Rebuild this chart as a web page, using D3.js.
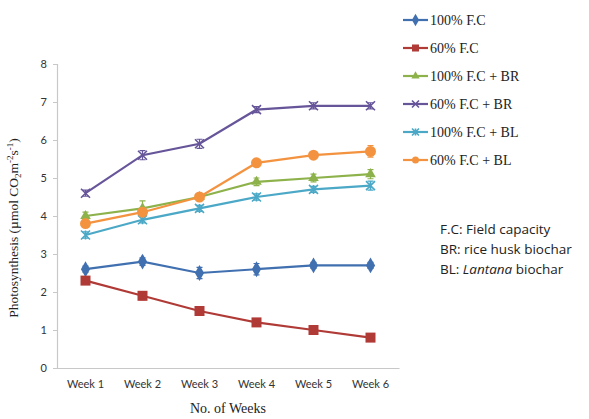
<!DOCTYPE html>
<html>
<head>
<meta charset="utf-8">
<script src="https://cdn.jsdelivr.net/npm/d3@7"></script>
<style>
  html, body { margin: 0; padding: 0; background: #fff; }
  svg { display: block; }
</style>
</head>
<body>
<div id="chart"></div>
<script>
// Weekly photosynthesis rate under water regimes and biochar amendments
const weeks = ["Week 1", "Week 2", "Week 3", "Week 4", "Week 5", "Week 6"];
const yTicks = [0, 1, 2, 3, 4, 5, 6, 7, 8];

const fc100      = [2.6, 2.8, 2.5, 2.6, 2.7, 2.7];
const fc60       = [2.3, 1.9, 1.5, 1.2, 1.0, 0.8];
const fc100BR    = [4.0, 4.2, 4.5, 4.9, 5.0, 5.1];
const fc60BR     = [4.6, 5.6, 5.9, 6.8, 6.9, 6.9];
const fc100BL    = [3.5, 3.9, 4.2, 4.5, 4.7, 4.8];
const fc60BL     = [3.8, 4.1, 4.5, 5.4, 5.6, 5.7];

// standard errors
const fc100Err   = [0.08, 0.1, 0.15, 0.15, 0.08, 0.08];
const fc60Err    = [0.08, 0.1, 0.08, 0.1, 0.06, 0.06];
const fc100BRErr = [0.1, 0.2, 0.08, 0.1, 0.1, 0.12];
const fc60BRErr  = [0.08, 0.12, 0.12, 0.08, 0.08, 0.08];
const fc100BLErr = [0.08, 0.08, 0.08, 0.08, 0.08, 0.12];
const fc60BLErr  = [0.1, 0.1, 0.08, 0.08, 0.08, 0.15];

const seriesNames = ["100% F.C", "60% F.C", "100% F.C + BR", "60% F.C + BR", "100% F.C + BL", "60% F.C + BL"];
const seriesValues = [fc100, fc60, fc100BR, fc60BR, fc100BL, fc60BL];
const seriesErrors = [fc100Err, fc60Err, fc100BRErr, fc60BRErr, fc100BLErr, fc60BLErr];
const seriesColors = ["#4170B0", "#B03A36", "#8DB24B", "#67559A", "#4BA8C6", "#F39340"];
const seriesMarkers = ["diamond", "square", "triangle", "cross", "asterisk", "circle"];

const W = 589, H = 419;
const svg = d3.select("#chart").append("svg").attr("width", W).attr("height", H);

const x = d3.scaleBand().domain(weeks).range([57, 399]);
const y = d3.scaleLinear().domain([0, 8]).range([368, 64]);

// axes
const yAxis = svg.append("g").attr("transform", "translate(57,0)")
  .call(d3.axisLeft(y).tickValues(yTicks).tickSize(4).tickPadding(6).tickFormat(d3.format("d")));
const xAxis = svg.append("g").attr("transform", "translate(0,368)")
  .call(d3.axisBottom(x).tickSize(0).tickPadding(12));
[yAxis, xAxis].forEach(g => {
  g.select(".domain").attr("stroke", "#c8c8c8").attr("stroke-width", 1.2);
  g.selectAll(".tick line").attr("stroke", "#c8c8c8");
  g.selectAll(".tick text").attr("font-family", "Lato, 'Open Sans', sans-serif")
    .attr("font-size", 11).attr("fill", "#333");
});

// axis titles
svg.append("text")
  .attr("x", x.range()[0] + (x.range()[1] - x.range()[0]) / 2)
  .attr("y", 413)
  .attr("text-anchor", "middle")
  .attr("font-family", "'Liberation Serif', serif")
  .attr("font-size", 14).attr("fill", "#222")
  .text("No. of Weeks");

const yt = svg.append("text")
  .attr("transform", "translate(18,228) rotate(-90)")
  .attr("text-anchor", "middle")
  .attr("font-family", "'Liberation Serif', serif")
  .attr("font-size", 13.5).attr("fill", "#222");
yt.append("tspan").text("Photosynthesis (µmol CO");
yt.append("tspan").attr("font-size", 9).attr("dy", 3).text("2");
yt.append("tspan").attr("dy", -3).text("m");
yt.append("tspan").attr("font-size", 9).attr("dy", -5).text("-2");
yt.append("tspan").attr("dy", 5).text("s");
yt.append("tspan").attr("font-size", 9).attr("dy", -5).text("-1");
yt.append("tspan").attr("dy", 5).text(")");

function drawMarker(g, type, color, s) {
  switch (type) {
    case "diamond":
      g.append("path").attr("d", d3.symbol(d3.symbolDiamond, s * s * 0.9)()).attr("fill", color);
      break;
    case "square":
      g.append("rect").attr("x", -s / 2).attr("y", -s / 2).attr("width", s).attr("height", s).attr("fill", color);
      break;
    case "triangle":
      g.append("path").attr("d", d3.symbol(d3.symbolTriangle, s * s * 0.6)()).attr("fill", color);
      break;
    case "cross":
      g.append("path").attr("d", `M${-s/2},${-s/2}L${s/2},${s/2}M${-s/2},${s/2}L${s/2},${-s/2}`)
        .attr("stroke", color).attr("stroke-width", 1.6).attr("fill", "none");
      break;
    case "asterisk":
      g.append("path").attr("d", `M${-s/2},${-s/2}L${s/2},${s/2}M${-s/2},${s/2}L${s/2},${-s/2}M0,${-s/2}L0,${s/2}`)
        .attr("stroke", color).attr("stroke-width", 1.6).attr("fill", "none");
      break;
    case "circle":
      g.append("circle").attr("r", s / 2).attr("fill", color);
      break;
  }
}

const cx = d => x(d) + x.bandwidth() / 2;
const line = d3.line().x(d => cx(d.week)).y(d => y(d.v));

seriesValues.forEach((vals, i) => {
  const pts = vals.map((v, j) => ({ week: weeks[j], v, e: seriesErrors[i][j] }));
  const color = seriesColors[i];
  const g = svg.append("g");
  g.append("path").datum(pts).attr("d", line)
    .attr("fill", "none").attr("stroke", color).attr("stroke-width", 2.2);
  // error bars
  pts.forEach(p => {
    const px = cx(p.week);
    g.append("path")
      .attr("d", `M${px},${y(p.v + p.e)}L${px},${y(p.v - p.e)}M${px - 3},${y(p.v + p.e)}L${px + 3},${y(p.v + p.e)}M${px - 3},${y(p.v - p.e)}L${px + 3},${y(p.v - p.e)}`)
      .attr("stroke", color).attr("stroke-width", 1.2).attr("fill", "none");
  });
  pts.forEach(p => {
    const m = g.append("g").attr("transform", `translate(${cx(p.week)},${y(p.v)})`);
    drawMarker(m, seriesMarkers[i], color, i === 5 ? 11 : (i === 1 ? 10 : 9));
  });
});

// legend
const legend = svg.append("g");
seriesNames.forEach((name, i) => {
  const ly = 20 + i * 28;
  const row = legend.append("g").attr("transform", `translate(403,${ly})`);
  row.append("line").attr("x1", 0).attr("x2", 25).attr("y1", 0).attr("y2", 0)
    .attr("stroke", seriesColors[i]).attr("stroke-width", 2.2);
  const m = row.append("g").attr("transform", "translate(12.5,0)");
  drawMarker(m, seriesMarkers[i], seriesColors[i], 7);
  row.append("text").attr("x", 27).attr("y", 4.5)
    .attr("font-family", "'Liberation Serif', serif").attr("font-size", 14).attr("fill", "#222")
    .text(name);
});

// abbreviations note
const note = svg.append("g").attr("font-family", "'Open Sans', sans-serif")
  .attr("font-size", 13.5).attr("fill", "#222");
note.append("text").attr("x", 440).attr("y", 234).text("F.C: Field capacity");
note.append("text").attr("x", 440).attr("y", 254).text("BR: rice husk biochar");
const bl = note.append("text").attr("x", 440).attr("y", 274);
bl.append("tspan").text("BL: ");
bl.append("tspan").attr("font-style", "italic").text("Lantana");
bl.append("tspan").text(" biochar");
</script>
</body>
</html>
